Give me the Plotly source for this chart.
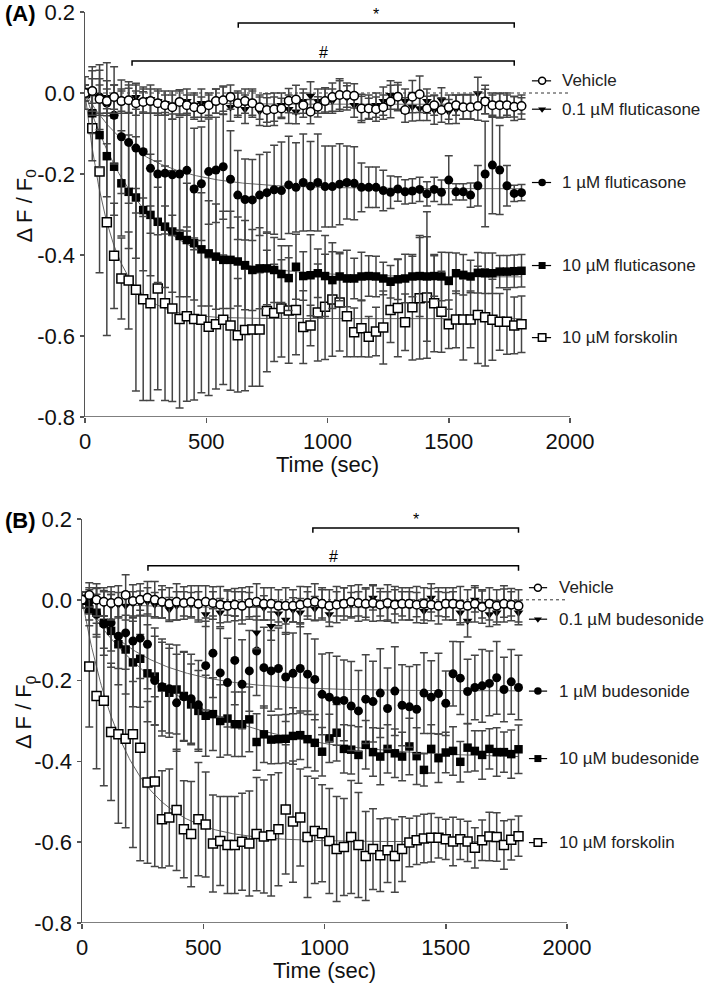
import numpy as np
import plotly.graph_objects as go

# ---------------- data ----------------
TIME_SEC = list(range(0, 1801, 30))  # 61 sampling times

# Panel A (fluticasone)
A_VEH = [0.000, 0.005, -0.015, -0.020, -0.010, -0.020, -0.018, -0.025, -0.022, -0.020,
         -0.025, -0.030, -0.035, -0.022, -0.030, -0.035, -0.040, -0.030, -0.020, -0.018,
         -0.010, -0.025, -0.020, -0.025, -0.035, -0.042, -0.040, -0.038, -0.019, -0.016,
         -0.030, -0.046, -0.034, -0.020, -0.010, -0.005, -0.005, -0.007, -0.038, -0.038,
         -0.040, -0.035, -0.021, -0.009, -0.042, -0.009, -0.003, -0.038, -0.030, -0.042,
         -0.035, -0.030, -0.035, -0.035, -0.032, -0.021, -0.030, -0.030, -0.030, -0.034,
         -0.032]
A_VEH_SD = [0.010, 0.030, 0.035, 0.030, 0.030, 0.025, 0.030, 0.030, 0.025, 0.030,
            0.030, 0.025, 0.030, 0.030, 0.025, 0.030, 0.030, 0.025, 0.030, 0.035,
            0.030, 0.030, 0.030, 0.035, 0.030, 0.030, 0.030, 0.025, 0.030, 0.035,
            0.030, 0.030, 0.025, 0.030, 0.035, 0.040, 0.030, 0.030, 0.030, 0.025,
            0.030, 0.030, 0.040, 0.035, 0.030, 0.040, 0.045, 0.030, 0.025, 0.030,
            0.030, 0.025, 0.030, 0.030, 0.035, 0.030, 0.025, 0.030, 0.025, 0.025,
            0.020]
A_01 = [0.000, 0.005, -0.010, -0.010, -0.015, -0.020, -0.015, -0.010, -0.020, -0.015,
        -0.020, -0.025, -0.030, -0.025, -0.020, -0.030, -0.025, -0.030, -0.020, -0.015,
        -0.035, -0.030, -0.040, -0.025, -0.045, -0.042, -0.040, -0.030, -0.040, -0.046,
        -0.020, -0.007, -0.020, -0.017, -0.020, -0.005, -0.012, -0.030, -0.038, -0.035,
        -0.030, -0.020, -0.005, -0.010, -0.020, -0.034, -0.038, -0.020, -0.042, -0.017,
        -0.046, -0.040, -0.034, -0.034, -0.001, -0.016, -0.030, -0.032, -0.030, -0.038,
        -0.035]
A_01_SD = [0.040, 0.060, 0.045, 0.040, 0.035, 0.030, 0.035, 0.030, 0.030, 0.035,
           0.030, 0.030, 0.035, 0.030, 0.030, 0.030, 0.035, 0.030, 0.030, 0.030,
           0.035, 0.030, 0.035, 0.030, 0.035, 0.040, 0.040, 0.030, 0.035, 0.030,
           0.030, 0.035, 0.030, 0.030, 0.030, 0.035, 0.030, 0.030, 0.035, 0.030,
           0.030, 0.035, 0.035, 0.030, 0.030, 0.035, 0.030, 0.030, 0.035, 0.030,
           0.030, 0.035, 0.030, 0.030, 0.040, 0.035, 0.030, 0.030, 0.030, 0.030,
           0.030]
A_1 = [0.000, 0.005, -0.010, -0.025, -0.055, -0.108, -0.122, -0.136, -0.145, -0.186,
       -0.200, -0.198, -0.202, -0.200, -0.191, -0.237, -0.224, -0.194, -0.190, -0.182,
       -0.213, -0.252, -0.263, -0.264, -0.252, -0.246, -0.239, -0.241, -0.227, -0.233,
       -0.221, -0.230, -0.221, -0.231, -0.231, -0.225, -0.221, -0.223, -0.233, -0.233,
       -0.233, -0.241, -0.245, -0.237, -0.244, -0.242, -0.238, -0.249, -0.238, -0.245,
       -0.215, -0.244, -0.244, -0.252, -0.229, -0.200, -0.178, -0.190, -0.229, -0.248,
       -0.246]
A_1_SD = [0.020, 0.050, 0.080, 0.100, 0.120, 0.140, 0.150, 0.160, 0.160, 0.160,
          0.150, 0.150, 0.150, 0.140, 0.140, 0.150, 0.140, 0.130, 0.130, 0.130,
          0.120, 0.110, 0.100, 0.100, 0.100, 0.100, 0.110, 0.120, 0.120, 0.110,
          0.120, 0.110, 0.120, 0.100, 0.100, 0.100, 0.090, 0.090, 0.060, 0.050,
          0.050, 0.050, 0.040, 0.030, 0.030, 0.030, 0.030, 0.030, 0.030, 0.030,
          0.060, 0.020, 0.020, 0.030, 0.050, 0.130, 0.120, 0.110, 0.050, 0.020,
          0.020]
A_10 = [0.000, -0.050, -0.104, -0.156, -0.182, -0.223, -0.244, -0.258, -0.289, -0.301,
        -0.318, -0.330, -0.342, -0.353, -0.363, -0.371, -0.386, -0.396, -0.404, -0.412,
        -0.412, -0.416, -0.425, -0.437, -0.433, -0.433, -0.437, -0.447, -0.457, -0.429,
        -0.452, -0.450, -0.445, -0.452, -0.462, -0.453, -0.458, -0.458, -0.453, -0.452,
        -0.453, -0.458, -0.466, -0.460, -0.458, -0.453, -0.452, -0.453, -0.452, -0.453,
        -0.464, -0.445, -0.449, -0.453, -0.444, -0.445, -0.445, -0.441, -0.441, -0.440,
        -0.439]
A_10_SD = [0.020, 0.050, 0.080, 0.100, 0.120, 0.130, 0.140, 0.150, 0.150, 0.150,
           0.150, 0.150, 0.150, 0.150, 0.140, 0.140, 0.140, 0.130, 0.130, 0.120,
           0.120, 0.110, 0.110, 0.100, 0.100, 0.090, 0.080, 0.070, 0.080, 0.080,
           0.060, 0.100, 0.060, 0.100, 0.070, 0.060, 0.070, 0.050, 0.060, 0.050,
           0.050, 0.040, 0.040, 0.050, 0.060, 0.050, 0.100, 0.160, 0.050, 0.060,
           0.070, 0.050, 0.050, 0.040, 0.050, 0.050, 0.050, 0.040, 0.040, 0.040,
           0.040]
A_FSK = [0.000, -0.087, -0.194, -0.319, -0.402, -0.458, -0.463, -0.486, -0.509, -0.519,
         -0.483, -0.519, -0.532, -0.558, -0.551, -0.558, -0.560, -0.577, -0.571, -0.560,
         -0.574, -0.598, -0.585, -0.584, -0.584, -0.538, -0.543, -0.532, -0.537, -0.536,
         -0.578, -0.574, -0.542, -0.528, -0.510, -0.517, -0.551, -0.591, -0.581, -0.602,
         -0.589, -0.579, -0.536, -0.531, -0.566, -0.529, -0.507, -0.505, -0.519, -0.540,
         -0.571, -0.559, -0.559, -0.559, -0.548, -0.554, -0.560, -0.565, -0.565, -0.574,
         -0.571]
A_FSK_SD = [0.020, 0.080, 0.250, 0.280, 0.130, 0.100, 0.120, 0.250, 0.250, 0.240,
            0.250, 0.240, 0.230, 0.220, 0.210, 0.200, 0.180, 0.170, 0.160, 0.160,
            0.160, 0.140, 0.150, 0.140, 0.140, 0.150, 0.120, 0.120, 0.130, 0.110,
            0.090, 0.050, 0.120, 0.130, 0.140, 0.120, 0.100, 0.060, 0.070, 0.050,
            0.060, 0.090, 0.080, 0.120, 0.070, 0.130, 0.150, 0.150, 0.120, 0.100,
            0.060, 0.070, 0.100, 0.070, 0.120, 0.120, 0.100, 0.070, 0.080, 0.070,
            0.070]

# Panel B (budesonide)
B_VEH = [0.000, 0.012, 0.000, -0.005, -0.008, -0.005, 0.012, -0.003, 0.000, 0.005,
         0.000, -0.005, -0.010, -0.005, -0.008, -0.005, -0.010, -0.005, -0.008, -0.012,
         -0.015, -0.012, -0.015, -0.008, -0.005, -0.010, -0.010, -0.015, -0.015, -0.015,
         -0.012, -0.008, -0.005, -0.010, -0.015, -0.012, -0.010, -0.005, -0.008, -0.010,
         -0.008, -0.012, -0.008, -0.012, -0.010, -0.010, -0.012, -0.010, -0.012, -0.015,
         -0.010, -0.010, -0.012, -0.015, -0.010, -0.018, -0.010, -0.015, -0.010, -0.012,
         -0.015]
B_VEH_SD = [0.020, 0.030, 0.040, 0.035, 0.040, 0.040, 0.050, 0.040, 0.040, 0.040,
            0.045, 0.040, 0.040, 0.045, 0.040, 0.040, 0.045, 0.040, 0.040, 0.045,
            0.040, 0.040, 0.045, 0.040, 0.045, 0.040, 0.040, 0.040, 0.045, 0.040,
            0.045, 0.040, 0.045, 0.040, 0.040, 0.045, 0.040, 0.040, 0.045, 0.040,
            0.045, 0.040, 0.045, 0.045, 0.040, 0.040, 0.045, 0.040, 0.040, 0.045,
            0.040, 0.040, 0.045, 0.040, 0.045, 0.040, 0.040, 0.040, 0.045, 0.040,
            0.040]
B_01 = [0.000, -0.010, -0.005, -0.010, -0.015, -0.012, -0.015, -0.010, -0.008, -0.005,
        -0.012, -0.010, -0.024, -0.015, -0.010, -0.012, -0.015, -0.036, -0.010, -0.032,
        -0.008, -0.010, -0.015, -0.012, -0.081, -0.020, -0.065, -0.034, -0.050, -0.025,
        -0.032, -0.010, -0.022, -0.010, -0.036, -0.010, -0.005, -0.012, -0.010, -0.008,
        0.005, -0.010, -0.015, -0.005, -0.010, -0.015, -0.012, -0.028, 0.005, -0.010,
        -0.012, -0.015, -0.032, -0.052, 0.000, -0.010, -0.036, -0.032, -0.008, -0.010,
        -0.032]
B_01_SD = [0.020, 0.040, 0.035, 0.030, 0.035, 0.030, 0.035, 0.030, 0.030, 0.035,
           0.030, 0.035, 0.030, 0.035, 0.030, 0.030, 0.035, 0.030, 0.030, 0.035,
           0.030, 0.030, 0.035, 0.030, 0.040, 0.030, 0.035, 0.030, 0.035, 0.030,
           0.035, 0.030, 0.030, 0.035, 0.030, 0.030, 0.035, 0.030, 0.030, 0.035,
           0.030, 0.030, 0.035, 0.030, 0.030, 0.035, 0.030, 0.030, 0.035, 0.030,
           0.030, 0.035, 0.030, 0.040, 0.030, 0.035, 0.030, 0.030, 0.035, 0.030,
           0.030]
B_1 = [0.000, -0.005, -0.036, -0.060, -0.057, -0.090, -0.082, -0.102, -0.095, -0.110,
       -0.200, -0.215, -0.220, -0.255, -0.240, -0.245, -0.260, -0.163, -0.132, -0.181,
       -0.205, -0.150, -0.209, -0.176, -0.127, -0.168, -0.176, -0.170, -0.191, -0.182,
       -0.170, -0.184, -0.197, -0.234, -0.241, -0.250, -0.249, -0.263, -0.275, -0.246,
       -0.252, -0.231, -0.269, -0.226, -0.261, -0.265, -0.271, -0.231, -0.241, -0.232,
       -0.256, -0.183, -0.194, -0.227, -0.217, -0.213, -0.207, -0.193, -0.222, -0.203,
       -0.217]
B_1_SD = [0.020, 0.030, 0.050, 0.060, 0.070, 0.080, 0.090, 0.100, 0.100, 0.110,
          0.110, 0.110, 0.110, 0.120, 0.110, 0.110, 0.110, 0.110, 0.110, 0.110,
          0.110, 0.110, 0.110, 0.100, 0.110, 0.100, 0.100, 0.100, 0.110, 0.100,
          0.110, 0.100, 0.100, 0.100, 0.110, 0.110, 0.100, 0.110, 0.100, 0.110,
          0.100, 0.110, 0.100, 0.110, 0.100, 0.100, 0.110, 0.100, 0.090, 0.100,
          0.080, 0.080, 0.090, 0.080, 0.080, 0.090, 0.080, 0.090, 0.080, 0.080,
          0.080]
B_10 = [0.000, -0.024, -0.032, -0.057, -0.077, -0.110, -0.123, -0.155, -0.146, -0.182,
        -0.190, -0.217, -0.230, -0.222, -0.238, -0.259, -0.275, -0.287, -0.283, -0.300,
        -0.294, -0.308, -0.308, -0.296, -0.352, -0.333, -0.346, -0.345, -0.344, -0.337,
        -0.335, -0.345, -0.354, -0.376, -0.343, -0.329, -0.369, -0.371, -0.384, -0.359,
        -0.377, -0.388, -0.369, -0.380, -0.388, -0.363, -0.387, -0.421, -0.369, -0.392,
        -0.378, -0.374, -0.401, -0.366, -0.374, -0.384, -0.369, -0.377, -0.377, -0.382,
        -0.370]
B_10_SD = [0.020, 0.040, 0.060, 0.080, 0.090, 0.100, 0.110, 0.110, 0.120, 0.120,
           0.120, 0.120, 0.110, 0.110, 0.110, 0.100, 0.100, 0.100, 0.090, 0.090,
           0.090, 0.080, 0.080, 0.080, 0.070, 0.070, 0.060, 0.060, 0.060, 0.070,
           0.060, 0.070, 0.070, 0.060, 0.060, 0.070, 0.060, 0.060, 0.070, 0.060,
           0.060, 0.070, 0.060, 0.060, 0.060, 0.070, 0.070, 0.040, 0.060, 0.060,
           0.050, 0.060, 0.050, 0.060, 0.050, 0.060, 0.050, 0.060, 0.050, 0.060,
           0.060]
B_FSK = [0.000, -0.165, -0.238, -0.250, -0.327, -0.333, -0.344, -0.333, -0.366, -0.452,
         -0.450, -0.543, -0.539, -0.520, -0.568, -0.580, -0.543, -0.556, -0.603, -0.597,
         -0.607, -0.607, -0.599, -0.603, -0.580, -0.586, -0.583, -0.568, -0.519, -0.549,
         -0.539, -0.587, -0.572, -0.578, -0.597, -0.617, -0.612, -0.587, -0.607, -0.634,
         -0.617, -0.632, -0.620, -0.634, -0.617, -0.601, -0.595, -0.591, -0.589, -0.589,
         -0.593, -0.598, -0.593, -0.598, -0.614, -0.595, -0.586, -0.587, -0.607, -0.594,
         -0.585]
B_FSK_SD = [0.020, 0.150, 0.180, 0.210, 0.170, 0.220, 0.220, 0.280, 0.280, 0.200,
            0.210, 0.120, 0.120, 0.150, 0.120, 0.130, 0.140, 0.130, 0.120, 0.110,
            0.120, 0.120, 0.120, 0.130, 0.140, 0.140, 0.150, 0.140, 0.160, 0.150,
            0.120, 0.150, 0.130, 0.120, 0.130, 0.130, 0.120, 0.140, 0.130, 0.110,
            0.100, 0.090, 0.080, 0.090, 0.080, 0.060, 0.060, 0.060, 0.060, 0.050,
            0.050, 0.060, 0.050, 0.050, 0.050, 0.050, 0.060, 0.060, 0.060, 0.050,
            0.050]

A_LABELS = ["Vehicle", "0.1 µM fluticasone", "1 µM fluticasone", "10 µM fluticasone", "10 µM forskolin"]
B_LABELS = ["Vehicle", "0.1 µM budesonide", "1 µM budesonide", "10 µM budesonide", "10 µM forskolin"]
A_LABEL_Y = [0.030, -0.040, -0.221, -0.426, -0.604]
B_LABEL_Y = [0.030, -0.048, -0.226, -0.393, -0.601]

# significance brackets: (x start, x end, y, label)
A_BRACKETS = [(632, 1770, 0.173, "*"), (194, 1770, 0.079, "#")]
B_BRACKETS = [(952, 1800, 0.178, "*"), (272, 1800, 0.084, "#")]

X_TICKS = [0, 500, 1000, 1500, 2000]
Y_TICKS = [0.2, 0.0, -0.2, -0.4, -0.6, -0.8]
Y_TICK_TEXT = ["0.2", "0.0", "-0.2", "-0.4", "-0.6", "-0.8"]

# ---------------- styling ----------------
W, H = 709, 988
FONT = "Liberation Sans, Arial, Helvetica, sans-serif"
GRAY = "#555555"
BAR = "#454545"

STYLES = {
    "veh": dict(symbol="circle", size=8.5, color="white", line=dict(color="black", width=1.5)),
    "01": dict(symbol="triangle-down", size=8.5, color="black", line=dict(color="black", width=0)),
    "1": dict(symbol="circle", size=9, color="black", line=dict(color="black", width=0)),
    "10": dict(symbol="square", size=8.5, color="black", line=dict(color="black", width=0)),
    "fsk": dict(symbol="square", size=9, color="white", line=dict(color="black", width=1.5)),
}


def fit_decay(t, y):
    t = np.asarray(t, float)
    y = np.asarray(y, float)
    best = None
    for tau in np.geomspace(5, 5000, 600):
        b = 1 - np.exp(-t / tau)
        p = float(b @ y) / float(b @ b)
        sse = float(((y - p * b) ** 2).sum())
        if best is None or sse < best[0]:
            best = (sse, p, tau)
    return best[1], best[2]


fig = go.Figure()

panels = [
    dict(xa="x", ya="y", x0px=85, top=12, bot=417,
         series=[("fsk", A_FSK, A_FSK_SD), ("10", A_10, A_10_SD), ("1", A_1, A_1_SD),
                 ("01", A_01, A_01_SD), ("veh", A_VEH, A_VEH_SD)],
         labels=A_LABELS, label_y=A_LABEL_Y, brackets=A_BRACKETS, tag="(A)",
         leg_line=(1843, 1922), leg_mark=1885, leg_text=1959),
    dict(xa="x2", ya="y2", x0px=82, top=519, bot=923,
         series=[("fsk", B_FSK, B_FSK_SD), ("10", B_10, B_10_SD), ("1", B_1, B_1_SD),
                 ("01", B_01, B_01_SD), ("veh", B_VEH, B_VEH_SD)],
         labels=B_LABELS, label_y=B_LABEL_Y, brackets=B_BRACKETS, tag="(B)",
         leg_line=(1843, 1918), leg_mark=1880, leg_text=1959),
]

label_keys = ["veh", "01", "1", "10", "fsk"]
t_fine = np.linspace(0, 1800, 361)
shapes = []
annotations = []
layout_axes = {}

for i, p in enumerate(panels):
    xa, ya = p["xa"], p["ya"]
    # fitted curves
    for key, mean, sd in p["series"]:
        if key == "veh":
            continue
        P, tau = fit_decay(TIME_SEC, mean)
        fig.add_trace(go.Scatter(x=t_fine, y=P * (1 - np.exp(-t_fine / tau)), mode="lines",
                                 line=dict(color="#666666", width=1), xaxis=xa, yaxis=ya,
                                 hoverinfo="skip", showlegend=False))
    # data with error bars
    for key, mean, sd in p["series"]:
        st = STYLES[key]
        fig.add_trace(go.Scatter(
            x=TIME_SEC, y=mean, mode="markers", xaxis=xa, yaxis=ya, showlegend=False,
            error_y=dict(type="data", array=sd, visible=True, color=BAR, thickness=1.5, width=4),
            marker=dict(symbol=st["symbol"], size=st["size"], color=st["color"], line=st["line"]),
        ))
    # in-plot legend
    for key, lab, ly in zip(label_keys, p["labels"], p["label_y"]):
        st = STYLES[key]
        fig.add_trace(go.Scatter(x=list(p["leg_line"]), y=[ly, ly], mode="lines",
                                 line=dict(color="black", width=1.2), xaxis=xa, yaxis=ya,
                                 showlegend=False, hoverinfo="skip"))
        fig.add_trace(go.Scatter(x=[p["leg_mark"]], y=[ly], mode="markers", xaxis=xa, yaxis=ya,
                                 showlegend=False, hoverinfo="skip",
                                 marker=dict(symbol=st["symbol"], size=st["size"] - 1.5, color=st["color"],
                                             line=st["line"])))
        annotations.append(dict(x=p["leg_text"], y=ly, xref=xa, yref=ya, text=lab, showarrow=False,
                                xanchor="left", yanchor="middle",
                                font=dict(family=FONT, size=17, color="#222222")))
    # baseline (dotted) and x axis line
    shapes.append(dict(type="line", xref=xa, yref=ya, x0=0, x1=2000, y0=0, y1=0,
                       line=dict(color="#333333", width=1, dash="dot"), layer="below"))
    shapes.append(dict(type="line", xref=xa, yref=ya, x0=0, x1=2000, y0=-0.8, y1=-0.8,
                       line=dict(color=GRAY, width=1.5)))
    # brackets
    for (xs, xe, yb, lab) in p["brackets"]:
        drop = 0.012
        shapes.append(dict(type="path", xref=xa, yref=ya,
                           path=f"M {xs},{yb - drop} L {xs},{yb} L {xe},{yb} L {xe},{yb - drop}",
                           line=dict(color="black", width=1.5)))
        dy = 0.02 if lab == "*" else 0.022
        annotations.append(dict(x=(xs + xe) / 2, y=yb + dy, xref=xa, yref=ya, text=lab,
                                showarrow=False, xanchor="center", yanchor="middle",
                                font=dict(family=FONT, size=16, color="black")))
    # axes
    dom_y = [1 - p["bot"] / H, 1 - p["top"] / H]
    xmax = (W - p["x0px"]) / 0.2425
    sfx = "" if i == 0 else "2"
    layout_axes["xaxis" + sfx] = dict(
        domain=[p["x0px"] / W, 1], range=[0, xmax], anchor=ya, showline=False, showgrid=False,
        zeroline=False, tickvals=X_TICKS, ticktext=[str(v) for v in X_TICKS], ticks="outside",
        ticklen=5, tickwidth=1.5, tickcolor=GRAY, ticklabeloverflow="allow", fixedrange=True,
        tickfont=dict(family=FONT, size=22, color="#111111"))
    layout_axes["yaxis" + sfx] = dict(
        domain=dom_y, range=[-0.8, 0.2], anchor=xa, showline=True, linecolor=GRAY, linewidth=1.5,
        showgrid=False, zeroline=False, tickvals=Y_TICKS, ticktext=Y_TICK_TEXT, ticks="outside",
        ticklen=4, tickwidth=1.5, tickcolor=GRAY, ticklabeloverflow="allow", fixedrange=True,
        tickfont=dict(family=FONT, size=22, color="#111111"))
    # titles and panel tag
    annotations.append(dict(x=3 / W, y=1 - (p["top"] + 1) / H, xref="paper", yref="paper",
                            text="<b>" + p["tag"] + "</b>", showarrow=False, xanchor="left",
                            yanchor="middle", font=dict(family=FONT, size=22, color="black")))
    annotations.append(dict(x=25 / W, y=1 - ((p["top"] + p["bot"]) / 2 - 8) / H, xref="paper",
                            yref="paper", text="Δ F / F<sub>0</sub>", textangle=-90, showarrow=False,
                            xanchor="center", yanchor="middle",
                            font=dict(family=FONT, size=22, color="#111111")))
    annotations.append(dict(x=1000, y=1 - (p["bot"] + 47) / H, xref=xa, yref="paper",
                            text="Time (sec)", showarrow=False, xanchor="center", yanchor="middle",
                            font=dict(family=FONT, size=22, color="#111111")))

fig.update_layout(
    width=W, height=H, margin=dict(l=0, r=0, t=0, b=0, autoexpand=False),
    paper_bgcolor="white", plot_bgcolor="white", showlegend=False, hovermode=False,
    font=dict(family=FONT, color="#111111"),
    shapes=shapes, annotations=annotations, **layout_axes,
)

fig.write_html("out.html", config={"displayModeBar": False, "staticPlot": True},
               post_script="document.body.style.margin='0';document.body.style.padding='0';"
                           "document.documentElement.style.overflow='hidden';")
